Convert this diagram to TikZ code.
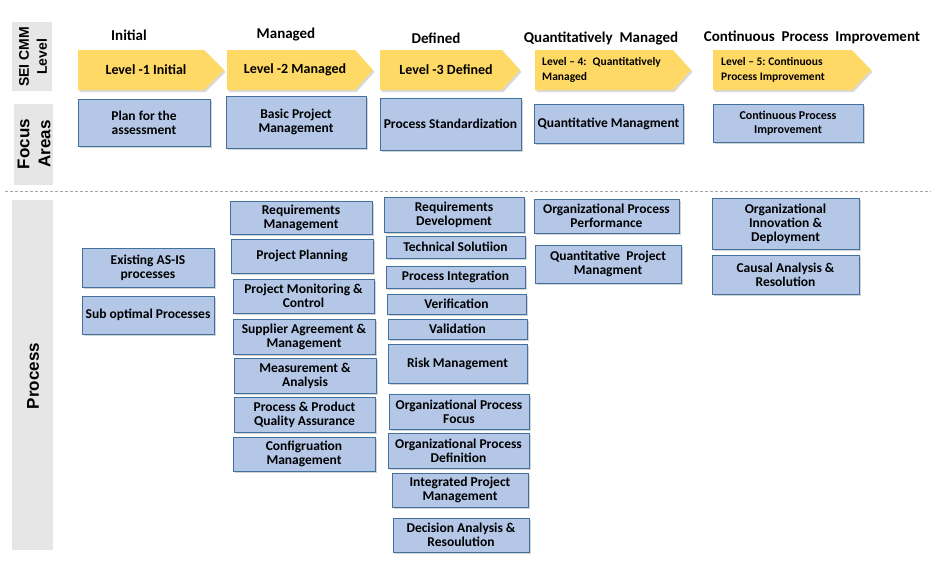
\documentclass[tikz,border=0pt]{standalone}
\usepackage{fontspec}
\setmainfont{Carlito}
\newfontfamily\sidefont{Liberation Sans}
\usepackage{tikz}
\usetikzlibrary{shadows}
\definecolor{lvlyellow}{HTML}{FFD966}
\definecolor{areafill}{HTML}{B4C7E7}
\definecolor{areadraw}{HTML}{41719C}
\definecolor{sidegray}{HTML}{E6E6E6}
\definecolor{dashgray}{HTML}{A6A6A6}
\newcommand{\lvlarrow}[3]{\fill[lvlyellow,drop shadow={shadow xshift=1.5pt,shadow yshift=-2pt,opacity=.3}]
	(#1,50) -- (#2,50) -- (#3,70) -- (#2,90) -- (#1,90) -- cycle;}
\newcommand{\areabox}[7][]{\node[area,#1,minimum width={#5-#3},minimum height={#6-#4}]
	(#2) at ({(#3+#5)/2},{(#4+#6)/2}) {#7};}

\begin{document}
\begin{tikzpicture}[x=1pt,y=-1pt,inner sep=0pt,
	area/.style={draw=areadraw,line width=.9pt,fill=areafill,align=center,
		font=\bfseries\fontsize{13.5}{14}\selectfont,
		drop shadow={shadow xshift=1.5pt,shadow yshift=-2pt,opacity=.35}},
	title/.style={font=\bfseries\fontsize{15}{17}\selectfont},
	lvltext/.style={font=\bfseries\fontsize{14}{16}\selectfont},
	lvlsmall/.style={font=\bfseries\fontsize{11.5}{14.5}\selectfont,align=left,anchor=west},
	side/.style={rotate=90,align=center,font=\sidefont\bfseries}]
\useasboundingbox (0,0) rectangle (931,562);

%% bandeaux gris a gauche
\fill[sidegray] (12,22) rectangle (52,91);
\fill[sidegray] (14,104) rectangle (53,185);
\fill[sidegray] (12,200) rectangle (53,550);
\node[side,font=\sidefont\bfseries\fontsize{14}{18}\selectfont] (sei) at (33,57) {SEI CMM\\Level};
\node[side,font=\sidefont\bfseries\fontsize{17}{21}\selectfont] (focus) at (34,144) {Focus\\Areas};
\node[side,font=\sidefont\bfseries\fontsize{17}{21}\selectfont] (proc) at (33,376) {Process};
\draw[dashgray,thin,dash pattern=on 3pt off 2pt] (5,191) -- (931,191);

%% niveaux
\node[title] (t1) at (129,35) {Initial};
\node[title] (t2) at (286,35) {Managed};
\node[title] (t3) at (436,38) {Defined};
\node[title] (t4) at (601,38) {Quantitatively~ Managed};
\node[title] (t5) at (812,37) {Continuous~ Process~ Improvement};

\lvlarrow{78}{204}{224}
\lvlarrow{227}{355}{373}
\lvlarrow{380}{502}{520}
\lvlarrow{535}{673}{691}
\lvlarrow{713}{852}{871}
\node[lvltext] (l1) at (146,70) {Level -1 Initial};
\node[lvltext] (l2) at (295,70) {Level -2 Managed};
\node[lvltext] (l3) at (446,70) {Level -3 Defined};
\node[lvlsmall] (l4) at (542,70) {Level -- 4:~ Quantitatively\\Managed};
\node[lvlsmall] (l5) at (721,70) {Level -- 5:~Continuous\\Process Improvement};

%% focus areas
\areabox{fa1}{78}{99}{210}{146}{Plan for the\\assessment}
\areabox{fa2}{226}{96}{366}{148}{Basic Project\\Management}
\areabox{fa3}{380}{98}{521}{150}{Process Standardization}
\areabox{fa4}{534}{104}{683}{143}{Quantitative Managment}
\areabox[font=\bfseries\fontsize{12}{14}\selectfont]{fa5}{713}{104}{863}{142}{Continuous Process\\Improvement}

%% process
\areabox{p11}{82}{248}{214}{287}{Existing AS-IS\\processes}
\areabox{p12}{82}{296}{214}{334}{Sub optimal Processes}

\areabox{p21}{230}{201}{372}{234}{Requirements\\Management}
\areabox{p22}{231}{239}{373}{273}{Project Planning}
\areabox{p23}{233}{279}{374}{313}{Project Monitoring \&\\Control}
\areabox{p24}{233}{319}{375}{354}{Supplier Agreement \&\\Management}
\areabox{p25}{234}{358}{376}{393}{Measurement \&\\Analysis}
\areabox{p26}{234}{397}{375}{432}{Process \& Product\\Quality Assurance}
\areabox{p27}{233}{437}{375}{471}{Configruation\\Management}

\areabox{p31}{384}{197}{524}{232}{Requirements\\Development}
\areabox{p32}{386}{236}{525}{258}{Technical Solutiion}
\areabox{p33}{386}{266}{525}{288}{Process Integration}
\areabox{p34}{387}{294}{526}{314}{Verification}
\areabox{p35}{388}{319}{527}{339}{Validation}
\areabox{p36}{388}{344}{527}{383}{Risk Management}
\areabox{p37}{389}{394}{529}{429}{Organizational Process\\Focus}
\areabox{p38}{388}{433}{529}{468}{Organizational Process\\Definition}
\areabox{p39}{392}{473}{528}{507}{Integrated Project\\Management}
\areabox{p310}{393}{518}{529}{552}{Decision Analysis \&\\Resoulution}

\areabox{p41}{534}{199}{679}{233}{Organizational Process\\Performance}
\areabox{p42}{535}{245}{681}{283}{Quantitative~ Project\\Managment}

\areabox{p51}{712}{198}{859}{249}{Organizational\\Innovation \&\\Deployment}
\areabox{p52}{712}{255}{859}{294}{Causal Analysis \&\\Resolution}
\end{tikzpicture}
\end{document}
